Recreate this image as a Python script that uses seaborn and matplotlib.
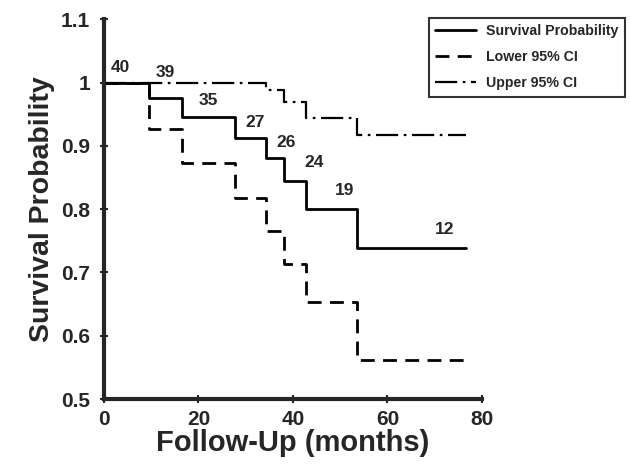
import matplotlib
matplotlib.use("Agg")
import matplotlib.pyplot as plt
import pandas as pd
import seaborn as sns

# Kaplan-Meier steps (months, probability)
months = [0, 9.5, 16.5, 27.7, 34.4, 38.2, 42.7, 53.5, 76.6]
survival = [1.0, 0.975, 0.946, 0.913, 0.881, 0.845, 0.800, 0.738, 0.738]
lower_ci = [1.0, 0.927, 0.873, 0.817, 0.766, 0.714, 0.654, 0.562, 0.562]
upper_ci = [1.0, 1.0, 1.0, 1.0, 0.989, 0.970, 0.944, 0.917, 0.917]

# numbers at risk (one per step of the survival curve) and where they are written
at_risk = [40, 39, 35, 27, 26, 24, 19, 12]
at_risk_x = [3.5, 13, 22, 32, 38.5, 44.5, 51, 72]
at_risk_dy = [0.024, 0.041, 0.025, 0.024, 0.024, 0.028, 0.029, 0.030]

df = pd.DataFrame({"months": months, "surv": survival,
                   "lo": lower_ci, "hi": upper_ci})

sns.set_style("ticks")
plt.rcParams["font.family"] = ["Liberation Sans", "DejaVu Sans"]
plt.rcParams["font.weight"] = "bold"

fig = plt.figure(figsize=(6.3, 4.69), dpi=100)
ax = fig.add_axes([0.165, 0.149, 0.600, 0.810])

sns.lineplot(data=df, x="months", y="surv", ax=ax, color="black", lw=2,
             drawstyle="steps-post", estimator=None, label="Survival Probability")
sns.lineplot(data=df, x="months", y="lo", ax=ax, color="black", lw=2,
             drawstyle="steps-post", estimator=None,
             linestyle=(0, (5, 3)), label="Lower 95% CI")
sns.lineplot(data=df, x="months", y="hi", ax=ax, color="black", lw=1.6,
             drawstyle="steps-post", estimator=None,
             linestyle=(0, (10, 2.5, 1.2, 2.5)), label="Upper 95% CI")

# i-th count sits above the i-th step of the survival curve
for i, (n, x, dy) in enumerate(zip(at_risk, at_risk_x, at_risk_dy)):
    ax.text(x, survival[i] + dy, str(n), ha="center", va="center",
            fontsize=12.5, fontweight="bold")

ax.set_xlim(0, 80)
ax.set_ylim(0.5, 1.1)
ax.set_xticks([0, 20, 40, 60, 80])
ax.set_yticks([0.5, 0.6, 0.7, 0.8, 0.9, 1.0, 1.1])
ax.set_yticklabels(["0.5", "0.6", "0.7", "0.8", "0.9", "1", "1.1"])
ax.tick_params(direction="inout", length=6, width=1.5, labelsize=15)
ax.tick_params(axis="x", pad=5)
ax.tick_params(axis="y", pad=7)
for lab in ax.get_xticklabels() + ax.get_yticklabels():
    lab.set_fontweight("bold")
ax.set_xlabel("Follow-Up (months)", fontsize=21, fontweight="bold", labelpad=0)
ax.set_ylabel("Survival Probability", fontsize=20.5, fontweight="bold", labelpad=4)

sns.despine(ax=ax)
ax.spines["left"].set_linewidth(3)
ax.spines["bottom"].set_linewidth(3)

leg = ax.legend(loc="upper right", bbox_to_anchor=(0.992, 0.962),
                bbox_transform=fig.transFigure, fancybox=False, frameon=True,
                edgecolor="black", fontsize=10.2, handlelength=2.9,
                handletextpad=0.7, borderaxespad=0, labelspacing=0.85,
                borderpad=0.45)
leg.get_frame().set_linewidth(1.5)
for t in leg.get_texts():
    t.set_fontweight("bold")

fig.savefig("out.png", dpi=100, facecolor="white")
